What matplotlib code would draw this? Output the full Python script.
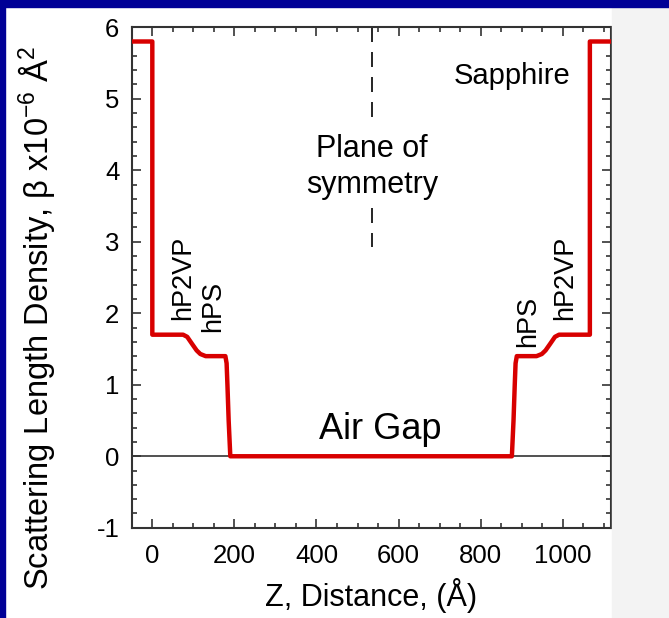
import matplotlib
matplotlib.use("Agg")
import matplotlib.pyplot as plt
from matplotlib.patches import Rectangle
from matplotlib.ticker import MultipleLocator

plt.rcParams['font.family'] = ['Liberation Sans', 'DejaVu Sans']
plt.rcParams['mathtext.default'] = 'regular'
plt.rcParams['axes.unicode_minus'] = False

# scattering length density profile (z in Angstrom, SLD x1e-6 A^-2)
z = [-60, 0, 0, 75, 85, 97, 108, 117, 130, 178, 181, 183, 186, 190,
     876, 880, 883, 885, 888, 936, 949, 958, 969, 981, 991, 1066, 1066, 1130]
sld = [5.8, 5.8, 1.7, 1.7, 1.67, 1.57, 1.48, 1.43, 1.40, 1.40, 1.3, 1.0, 0.5, 0.0,
       0.0, 0.5, 1.0, 1.3, 1.40, 1.40, 1.43, 1.48, 1.57, 1.67, 1.7, 1.7, 5.8, 5.8]

z_sym = 535
sym_upper = [6.0, 4.72]
sym_lower = [3.47, 2.92]

layer_labels = ['hP2VP', 'hPS', 'hPS', 'hP2VP']
layer_x = [75, 148, 915, 1005]
layer_y = [1.9, 1.74, 1.53, 1.9]

fig = plt.figure(figsize=(6.69, 6.18), dpi=100)
fig.patches.append(Rectangle((0.915, 0), 0.085, 1, transform=fig.transFigure,
                             color='#f3f3f3', zorder=0))
fig.patches.append(Rectangle((0, 0.988), 1, 0.012, transform=fig.transFigure,
                             color='#000096', zorder=1))
fig.patches.append(Rectangle((0, 0), 0.0075, 1, transform=fig.transFigure,
                             color='#000096', zorder=1))

ax = fig.add_axes([0.197, 0.146, 0.716, 0.81])
ax.axhline(0, color='#333333', lw=1.2, zorder=2)
ax.plot(z, sld, color='#d80000', lw=3.2, solid_joinstyle='round', zorder=3)

ax.plot([z_sym, z_sym], sym_upper, color='black', lw=1.2, dashes=(9, 6))
ax.plot([z_sym, z_sym], sym_lower, color='black', lw=1.2, dashes=(9, 6))

ax.text(z_sym, 4.3, 'Plane of', ha='center', va='center', fontsize=22)
ax.text(z_sym, 3.79, 'symmetry', ha='center', va='center', fontsize=22)
ax.text(876, 5.32, 'Sapphire', ha='center', va='center', fontsize=21)
ax.text(555, 0.37, 'Air Gap', ha='center', va='center', fontsize=26)
for lab, lx, ly in zip(layer_labels, layer_x, layer_y):
    ax.text(lx, ly, lab, rotation=90, ha='center', va='bottom', fontsize=19.5)

ax.set_xlim(-50, 1117)
ax.set_ylim(-1, 6)
ax.xaxis.set_major_locator(MultipleLocator(200))
ax.xaxis.set_minor_locator(MultipleLocator(50))
ax.yaxis.set_major_locator(MultipleLocator(1))
ax.yaxis.set_minor_locator(MultipleLocator(0.2))
ax.tick_params(which='both', direction='in', top=True, right=True,
               color='#333333', width=1.2)
ax.tick_params(which='major', length=6.5, labelsize=18.5)
ax.tick_params(axis='x', which='major', pad=12)
ax.tick_params(axis='y', which='major', pad=9)
ax.tick_params(which='minor', length=3.5)
for s in ax.spines.values():
    s.set_color('#333333')
    s.set_linewidth(1.5)

ax.set_xlabel('Z, Distance, (Å)', fontsize=22, labelpad=7)
ax.set_ylabel('Scattering Length Density, β x10$^{-6}$ Å$^{2}$', fontsize=23.5)
ax.yaxis.set_label_coords(-0.156, 0.42)

fig.savefig('out.png', dpi=100)
